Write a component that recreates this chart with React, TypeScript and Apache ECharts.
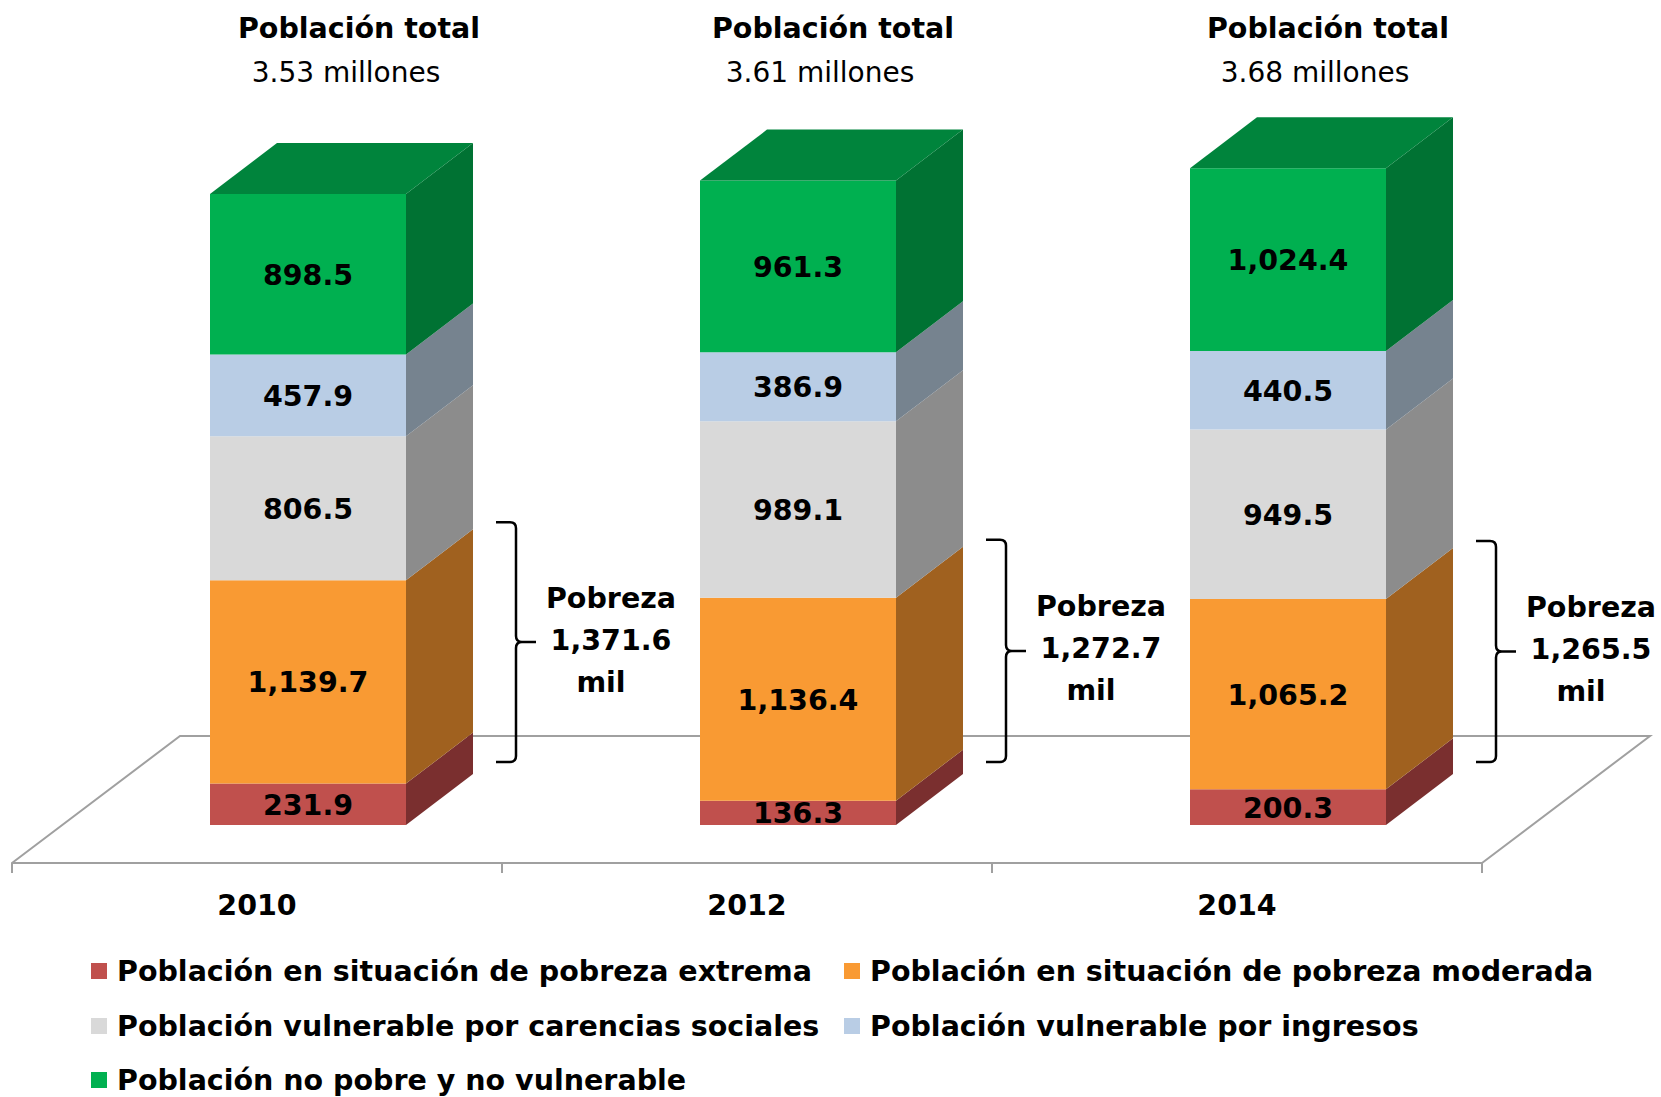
import React, { useEffect, useRef } from "react";
import * as echarts from "echarts";

// ---------------- data ----------------
const years = ["2010", "2012", "2014"];
const seriesNames = [
  "Población en situación de pobreza extrema",
  "Población en situación de pobreza moderada",
  "Población vulnerable por carencias sociales",
  "Población vulnerable por ingresos",
  "Población no pobre y no vulnerable",
];
const pobrezaExtrema = [231.9, 136.3, 200.3];
const pobrezaModerada = [1139.7, 1136.4, 1065.2];
const vulnerableCarencias = [806.5, 989.1, 949.5];
const vulnerableIngresos = [457.9, 386.9, 440.5];
const noPobre = [898.5, 961.3, 1024.4];
const totalMillones = ["3.53", "3.61", "3.68"];
const pobrezaTotal = [1371.6, 1272.7, 1265.5];

// ---------------- styles ----------------
const frontColors = ["#C0504D", "#F99A33", "#D9D9D9", "#B9CDE5", "#00B050"];
const sideColors = ["#7A2F2F", "#A0611F", "#8C8C8C", "#76838F", "#007233"];
const topColor = "#00843C";
const FONT = '"DejaVu Sans", Verdana, sans-serif';
const BOLD = `bold 28.5px ${FONT}`;
const DX = 67;
const DY = -51;
const BAR_FRAC = 0.4;
const HEAD_DX = [51, 35, 40];
const GRAY = "#A0A0A0";
// legend layout: [left, centerY] per series
const LEGEND_POS = [
  [91, 971],
  [844, 971],
  [91, 1026],
  [844, 1026],
  [91, 1080],
];

const fmt = (v: number) =>
  v.toLocaleString("en-US", { minimumFractionDigits: 1, maximumFractionDigits: 1 });

const stackValues = [pobrezaExtrema, pobrezaModerada, vulnerableCarencias, vulnerableIngresos, noPobre];

function buildSeriesData() {
  const bases = years.map(() => 0);
  return stackValues.map((vals) =>
    vals.map((v, i) => {
      const lo = bases[i];
      bases[i] = lo + v;
      return [i, lo, lo + v, v];
    })
  );
}

function makeRender(si: number, last: number) {
  return (_params: any, api: any) => {
    const cat = api.value(0);
    const lo = api.value(1);
    const hi = api.value(2);
    const v = api.value(3);
    const pb = api.coord([cat, lo]);
    const pt = api.coord([cat, hi]);
    const w = api.size([1, 0])[0] * BAR_FRAC;
    const x0 = pb[0] - w / 2;
    const x1 = pb[0] + w / 2;
    const yb = pb[1];
    const yt = pt[1];
    const children: any[] = [
      {
        type: "rect",
        shape: { x: x0, y: yt, width: w, height: yb - yt },
        style: { fill: frontColors[si] },
      },
      {
        type: "polygon",
        shape: { points: [[x1, yb], [x1 + DX, yb + DY], [x1 + DX, yt + DY], [x1, yt]] },
        style: { fill: sideColors[si] },
      },
    ];
    if (si === last) {
      children.push({
        type: "polygon",
        shape: { points: [[x0, yt], [x1, yt], [x1 + DX, yt + DY], [x0 + DX, yt + DY]] },
        style: { fill: topColor },
      });
    }
    children.push({
      type: "text",
      style: {
        text: fmt(v),
        x: pb[0],
        y: (yb + yt) / 2 + 1,
        align: "center",
        verticalAlign: "middle",
        font: BOLD,
        fill: "#000",
      },
    });
    return { type: "group", children };
  };
}

const Brace = (echarts as any).graphic.extendShape({
  shape: { x: 0, y1: 0, y2: 0, w: 20, tip: 20 },
  buildPath(ctx: any, s: any) {
    const xv = s.x + s.w;
    const ym = (s.y1 + s.y2) / 2;
    const r = 6;
    ctx.moveTo(s.x, s.y1);
    ctx.lineTo(xv - r, s.y1);
    ctx.quadraticCurveTo(xv, s.y1, xv, s.y1 + r);
    ctx.lineTo(xv, ym - r);
    ctx.quadraticCurveTo(xv, ym, xv + r, ym);
    ctx.lineTo(xv + s.tip, ym);
    ctx.moveTo(xv + r, ym);
    ctx.quadraticCurveTo(xv, ym, xv, ym + r);
    ctx.lineTo(xv, s.y2 - r);
    ctx.quadraticCurveTo(xv, s.y2, xv - r, s.y2);
    ctx.lineTo(s.x, s.y2);
  },
});
(echarts as any).graphic.registerShape("brace", Brace);

export default function App() {
  const ref = useRef<HTMLDivElement>(null);
  useEffect(() => {
    if (!ref.current) return;
    const chart = echarts.init(ref.current, null, { renderer: "svg" });
    const data = buildSeriesData();
    const last = stackValues.length - 1;
    const option: any = {
      animation: false,
      backgroundColor: "#fff",
      textStyle: { fontFamily: FONT },
      grid: [
        { left: 63, width: 1470, top: 111, height: 714 },
        { left: 12, width: 1470, top: 862, height: 1 },
      ],
      xAxis: [
        { gridIndex: 0, type: "category", data: years, show: false },
        {
          gridIndex: 1,
          type: "category",
          data: years,
          axisLine: { lineStyle: { color: GRAY, width: 2 } },
          axisTick: { show: true, length: 10, lineStyle: { color: GRAY, width: 2 } },
          axisLabel: {
            color: "#000",
            fontFamily: FONT,
            fontWeight: "bold",
            fontSize: 28.5,
            margin: 28,
          },
        },
      ],
      yAxis: [
        { gridIndex: 0, type: "value", min: 0, max: 4000, show: false },
        { gridIndex: 1, type: "value", min: 0, max: 1, show: false },
      ],
      legend: seriesNames.map((name, si) => ({
        left: LEGEND_POS[si][0],
        top: LEGEND_POS[si][1] - 15,
        padding: 0,
        orient: "horizontal",
        selectedMode: false,
        icon: "rect",
        itemWidth: 16,
        itemHeight: 16,
        data: [name],
        textStyle: {
          fontFamily: FONT,
          fontWeight: "bold",
          fontSize: 28.5,
          lineHeight: 30,
          color: "#000",
          padding: [0, 0, 0, 5],
        },
      })),
      series: seriesNames.map((name, si) => ({
        type: "custom",
        name,
        coordinateSystem: "cartesian2d",
        xAxisIndex: 0,
        yAxisIndex: 0,
        itemStyle: { color: frontColors[si] },
        encode: { x: 0, y: [1, 2] },
        data: data[si],
        renderItem: makeRender(si, last),
      })),
    };
    chart.setOption(option);

    // annotations positioned through the grid's scales
    const graphics: any[] = [];
    // floor (back and side edges)
    graphics.push({
      type: "polyline",
      z: 0,
      shape: { points: [[12, 863], [180, 736], [1650, 736], [1482, 863]] },
      style: { stroke: GRAY, lineWidth: 2, fill: "none" },
    });
    const p0 = chart.convertToPixel({ gridIndex: 0 }, [0, 0]) as number[];
    const p1 = chart.convertToPixel({ gridIndex: 0 }, [1, 0]) as number[];
    const band = p1[0] - p0[0];
    const w = band * BAR_FRAC;
    years.forEach((_y, i) => {
      const base = chart.convertToPixel({ gridIndex: 0 }, [i, 0]) as number[];
      const pTop = chart.convertToPixel({ gridIndex: 0 }, [i, pobrezaTotal[i]]) as number[];
      const cx = base[0];
      const fr = cx + w / 2;
      // headings
      graphics.push({
        type: "text",
        z: 100,
        style: {
          text: "Población total",
          x: cx + HEAD_DX[i],
          y: 28,
          align: "center",
          verticalAlign: "middle",
          font: BOLD,
          fill: "#000",
        },
      });
      graphics.push({
        type: "text",
        z: 100,
        style: {
          text: `${totalMillones[i]} millones`,
          x: cx + HEAD_DX[i] - 13,
          y: 72,
          align: "center",
          verticalAlign: "middle",
          font: `28px ${FONT}`,
          fill: "#000",
        },
      });
      // brace
      const y1 = pTop[1] - 58;
      const y2 = base[1] - 63;
      const ym = (y1 + y2) / 2;
      graphics.push({
        type: "brace",
        z: 100,
        shape: { x: fr + 90, y1, y2, w: 20, tip: 20 },
        style: { stroke: "#000", lineWidth: 2.5, fill: "none" },
      });
      const tx = fr + 205;
      [
        ["Pobreza", ym - 44, 0],
        [fmt(pobrezaTotal[i]), ym - 2, 0],
        ["mil", ym + 40, -10],
      ].forEach(([t, ty, off]) => {
        graphics.push({
          type: "text",
          z: 100,
          style: {
            text: t as string,
            x: tx + (off as number),
            y: ty as number,
            align: "center",
            verticalAlign: "middle",
            font: BOLD,
            fill: "#000",
          },
        });
      });
    });
    chart.setOption({ graphic: graphics });
    return () => chart.dispose();
  }, []);
  return (
    <div
      ref={ref}
      style={{ position: "fixed", left: 0, top: 0, width: 1661, height: 1097, background: "#fff" }}
    />
  );
}
